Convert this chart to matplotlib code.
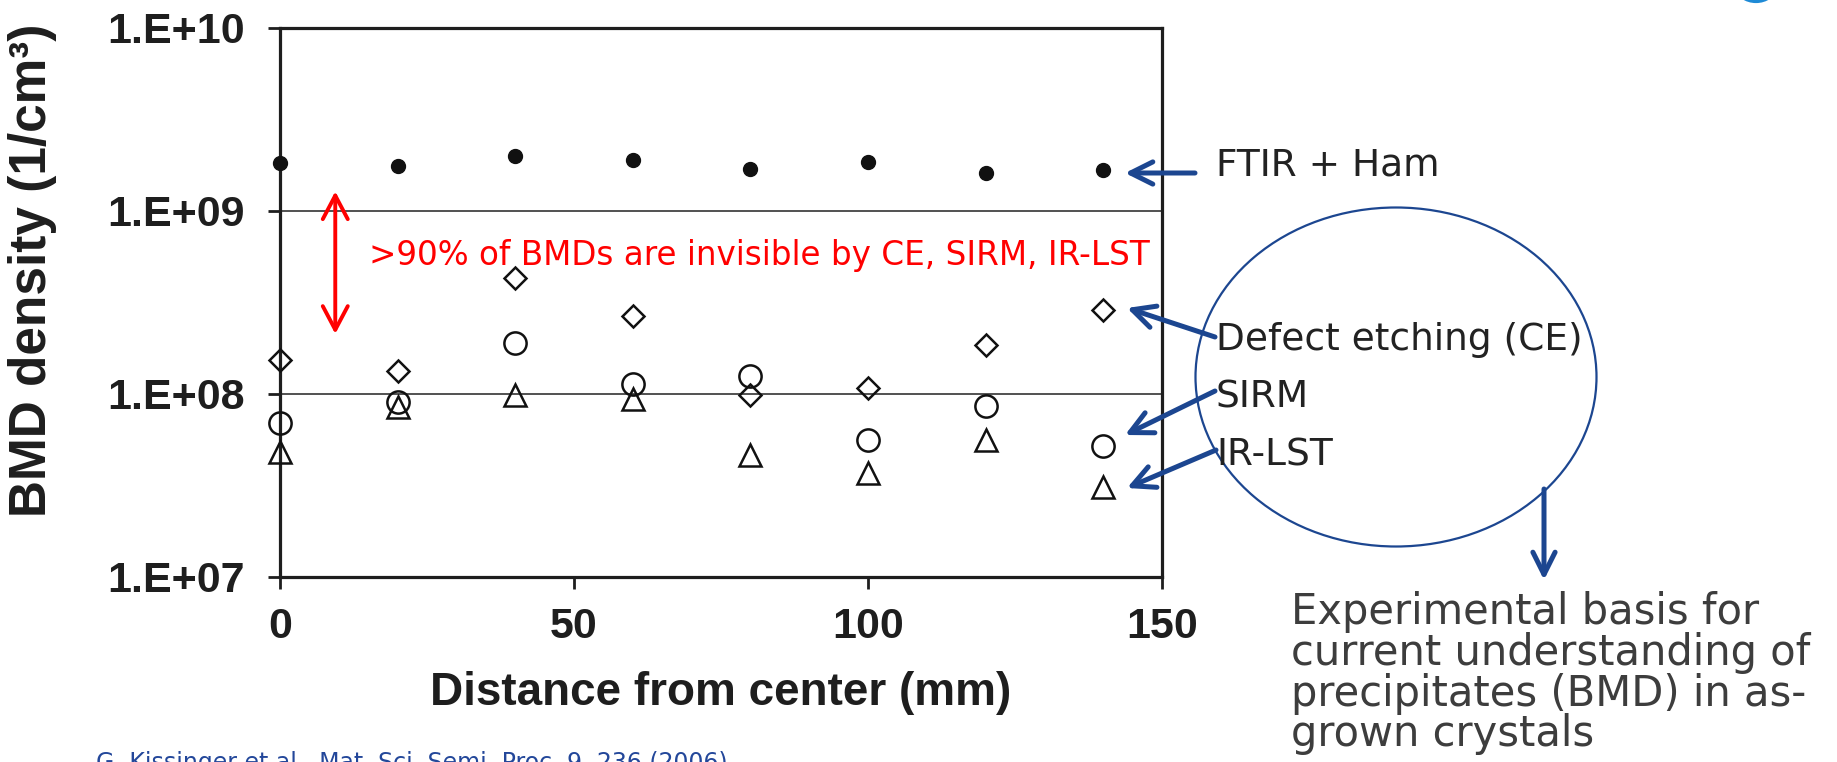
import matplotlib
matplotlib.use("Agg")
import matplotlib.pyplot as plt
from matplotlib.patches import Ellipse, Arc
from matplotlib.ticker import FixedLocator, NullLocator, FixedFormatter

# ---------------- data ----------------
distance_mm = [0, 20, 40, 60, 80, 100, 120, 140]
ftir_ham = [1.83e9, 1.76e9, 2.01e9, 1.90e9, 1.70e9, 1.85e9, 1.62e9, 1.68e9]
defect_etching = [1.53e8, 1.34e8, 4.33e8, 2.67e8, 9.9e7, 1.08e8, 1.86e8, 2.86e8]
sirm = [6.9e7, 9.04e7, 1.90e8, 1.14e8, 1.25e8, 5.64e7, 8.65e7, 5.2e7]
ir_lst = [4.82e7, 8.5e7, 9.9e7, 9.4e7, 4.67e7, 3.68e7, 5.61e7, 3.1e7]

y_ticks = [1e7, 1e8, 1e9, 1e10]
y_tick_labels = ["1.E+07", "1.E+08", "1.E+09", "1.E+10"]
x_ticks = [0, 50, 100, 150]
x_tick_labels = ["0", "50", "100", "150"]

series_labels = ["FTIR + Ham", "Defect etching (CE)", "SIRM", "IR-LST"]
red_note = ">90% of BMDs are invisible by CE, SIRM, IR-LST"
bottom_note = ["Experimental basis for", "current understanding of",
               "precipitates (BMD) in as-", "grown crystals"]
citation = "G. Kissinger et al., Mat. Sci. Semi. Proc. 9, 236 (2006)"

# ---------------- figure ----------------
W, H = 1837, 762
fig = plt.figure(figsize=(W / 100, H / 100), dpi=100)
fig.patch.set_facecolor("white")


def P(x, y):
    """pixel (from top-left) -> figure fraction"""
    return (x / W, 1 - y / H)


ax_l, ax_r, ax_t, ax_b = 280, 1162, 28, 577
ax = fig.add_axes([ax_l / W, 1 - ax_b / H, (ax_r - ax_l) / W, (ax_b - ax_t) / H])
ax.set_yscale("log")
ax.set_xlim(0, 150)
ax.set_ylim(1e7, 1e10)

BOLD = dict(family=["Liberation Sans", "DejaVu Sans"], weight="bold")
INK = "#1e1e1e"

ax.yaxis.set_major_locator(FixedLocator(y_ticks))
ax.yaxis.set_major_formatter(FixedFormatter(y_tick_labels))
ax.yaxis.set_minor_locator(NullLocator())
ax.xaxis.set_major_locator(FixedLocator(x_ticks))
ax.xaxis.set_major_formatter(FixedFormatter(x_tick_labels))
ax.xaxis.set_minor_locator(NullLocator())

ax.tick_params(axis="both", direction="out", length=8.5, width=2.0, color=INK,
               labelcolor=INK)
ax.tick_params(axis="y", pad=17)
ax.tick_params(axis="x", pad=13)
for lab in ax.get_xticklabels() + ax.get_yticklabels():
    lab.set_fontfamily(BOLD["family"])
    lab.set_fontweight("bold")
    lab.set_fontsize(31)

for s in ax.spines.values():
    s.set_linewidth(2.3)
    s.set_color(INK)

ax.yaxis.grid(True, color="#333333", linewidth=1.2)
ax.set_axisbelow(True)

# markers
ax.plot(distance_mm, ftir_ham, linestyle="none", marker="o", markersize=10,
        color="#111111", clip_on=False, zorder=5)
ax.plot(distance_mm, defect_etching, linestyle="none", marker="D", markersize=11.5,
        markerfacecolor="none", markeredgecolor="#111111", markeredgewidth=1.8,
        clip_on=False, zorder=5)
ax.plot(distance_mm, sirm, linestyle="none", marker="o", markersize=16,
        markerfacecolor="none", markeredgecolor="#111111", markeredgewidth=1.8,
        clip_on=False, zorder=5)
ax.plot(distance_mm, ir_lst, linestyle="none", marker="^", markersize=16,
        markerfacecolor="none", markeredgecolor="#111111", markeredgewidth=1.8,
        clip_on=False, zorder=5)

# axis labels
fig.text(33 / W, 1 - 270 / H, "BMD density (1/cm³)", rotation=90, ha="center",
         va="center", fontsize=37, color=INK, **BOLD)
fig.text(721 / W, 1 - 693 / H, "Distance from center (mm)", ha="center",
         va="center", fontsize=33, color=INK, **BOLD)

# red double arrow and note
RED = "#ff0000"
ax.annotate("", xy=(9.4, 1.28e9), xytext=(9.4, 2.13e8),
            arrowprops=dict(arrowstyle="<->,head_length=0.85,head_width=0.45",
                            color=RED, lw=2.8, mutation_scale=20,
                            shrinkA=0, shrinkB=0))
fig.text(369 / W, 1 - 265 / H, red_note, ha="left", va="baseline",
         fontsize=23.5, color=RED, family="DejaVu Sans")

# right side labels, ellipse and arrows
BLUE = "#1c4690"
TXT = "#222222"
fig.text(1216 / W, 1 - 175 / H, series_labels[0], ha="left", va="baseline",
         fontsize=27, color=TXT, family="DejaVu Sans")
fig.text(1216 / W, 1 - 350 / H, series_labels[1], ha="left", va="baseline",
         fontsize=27, color=TXT, family="DejaVu Sans")
fig.text(1216 / W, 1 - 407 / H, series_labels[2], ha="left", va="baseline",
         fontsize=27, color=TXT, family="DejaVu Sans")
fig.text(1216 / W, 1 - 465 / H, series_labels[3], ha="left", va="baseline",
         fontsize=27, color=TXT, family="DejaVu Sans")

ell = Ellipse(P(1396, 377), 401 / W, 339 / H, transform=fig.transFigure,
              fill=False, edgecolor=BLUE, linewidth=1.6)
fig.add_artist(ell)

arrow_kw = dict(arrowstyle="->,head_length=0.8,head_width=0.4", color=BLUE,
                lw=3.6, mutation_scale=20, shrinkA=0, shrinkB=0)
arrows = [((1195, 173), (1125, 173)),
          ((1215, 337), (1127, 308)),
          ((1215, 391), (1125, 435)),
          ((1216, 450), (1127, 488)),
          ((1544, 489), (1544, 580))]
for (x0, y0), (x1, y1) in arrows:
    ax.annotate("", xy=P(x1, y1), xytext=P(x0, y0), xycoords="figure fraction",
                textcoords="figure fraction", arrowprops=arrow_kw,
                annotation_clip=False)

# bottom-right note
GRAY = "#3d3d3d"
for line, yb in zip(bottom_note, [624, 665, 706, 746]):
    fig.text(1291 / W, 1 - yb / H, line, ha="left", va="baseline",
             fontsize=30, color=GRAY, family="DejaVu Sans")

# citation (cut at the bottom edge)
fig.text(96 / W, 1 - 770 / H, citation, ha="left", va="baseline",
         fontsize=17, color="#23479a", family="DejaVu Sans")

# logo fragment top-right
arc = Arc(P(1756, -19), 44 / W, 40 / H, transform=fig.transFigure,
          theta1=210, theta2=330, color="#1e8ad6", lw=3)
fig.add_artist(arc)

fig.savefig("out.png", dpi=100, facecolor="white")
